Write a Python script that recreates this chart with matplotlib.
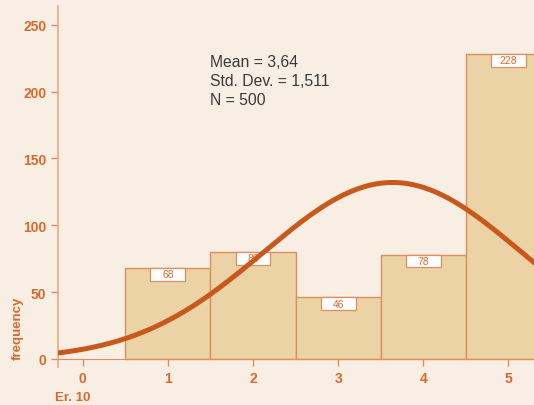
import numpy as np
import matplotlib.pyplot as plt
from matplotlib.patches import Rectangle

# histogram data
values = [1, 2, 3, 4, 5]
counts = [68, 80, 46, 78, 228]
mean = 3.64
std = 1.511
n = 500

bg = '#F8EEE4'
orange = '#D9692C'
bar_fill = '#EBD3A6'
bar_edge = '#DE8E5C'
curve_col = '#C9581C'

fig = plt.figure(figsize=(5.34, 4.06), dpi=100, facecolor=bg)
ax = fig.add_axes([58/534, 38/406, 476/534, 361/406], facecolor=bg)

ax.bar(values, counts, width=1.0, color=bar_fill, edgecolor=bar_edge, linewidth=1.0, zorder=2)

# count labels in small white boxes at the top of each bar
bw, bh = 0.41, 9.5
for v, c in zip(values, counts):
    ax.add_patch(Rectangle((v - bw / 2, c - bh), bw, bh, fc='white', ec=bar_edge, lw=0.9, zorder=3))
    ax.text(v, c - bh / 2, str(c), ha='center', va='center', fontsize=7.5, color=orange,
            zorder=3.5, fontfamily='Liberation Sans')

# fitted normal curve
xs = np.linspace(-0.3, 5.4, 300)
ys = n * 1.0 / (std * np.sqrt(2 * np.pi)) * np.exp(-0.5 * ((xs - mean) / std) ** 2)
ax.plot(xs, ys, color=curve_col, lw=3.6, zorder=4, solid_capstyle='round')

ax.text(1.50, 228, 'Mean = 3,64\nStd. Dev. = 1,511\nN = 500', fontsize=11.3, color='#3a3a3a',
        va='top', ha='left', linespacing=1.32, fontfamily='Liberation Sans')

ax.set_xlim(-0.29, 5.3)
ax.set_ylim(-6, 264)
ax.set_xticks([0, 1, 2, 3, 4, 5])
ax.set_yticks([0, 50, 100, 150, 200, 250])

for s in ['top', 'right']:
    ax.spines[s].set_visible(False)
ax.spines['bottom'].set_position(('data', 0))
ax.spines['bottom'].set_color(bar_edge)
ax.spines['left'].set_color('#EAAA80')
ax.spines['left'].set_linewidth(1.2)
ax.tick_params(colors=bar_edge, labelcolor=orange, length=5, width=1)
for lab in ax.get_xticklabels() + ax.get_yticklabels():
    lab.set_fontweight('bold')
    lab.set_fontsize(10)
    lab.set_fontfamily('Liberation Sans')

fig.text(18/534, 1 - 328/406, 'frequency', rotation=90, ha='center', va='center',
         color=orange, fontsize=9.5, fontweight='bold', fontfamily='Liberation Sans')
fig.text(55/534, 1 - 398/406, 'Er. 10', ha='left', va='center',
         color=orange, fontsize=9.5, fontweight='bold', fontfamily='Liberation Sans')

fig.savefig('out.png', dpi=100, facecolor=bg)
